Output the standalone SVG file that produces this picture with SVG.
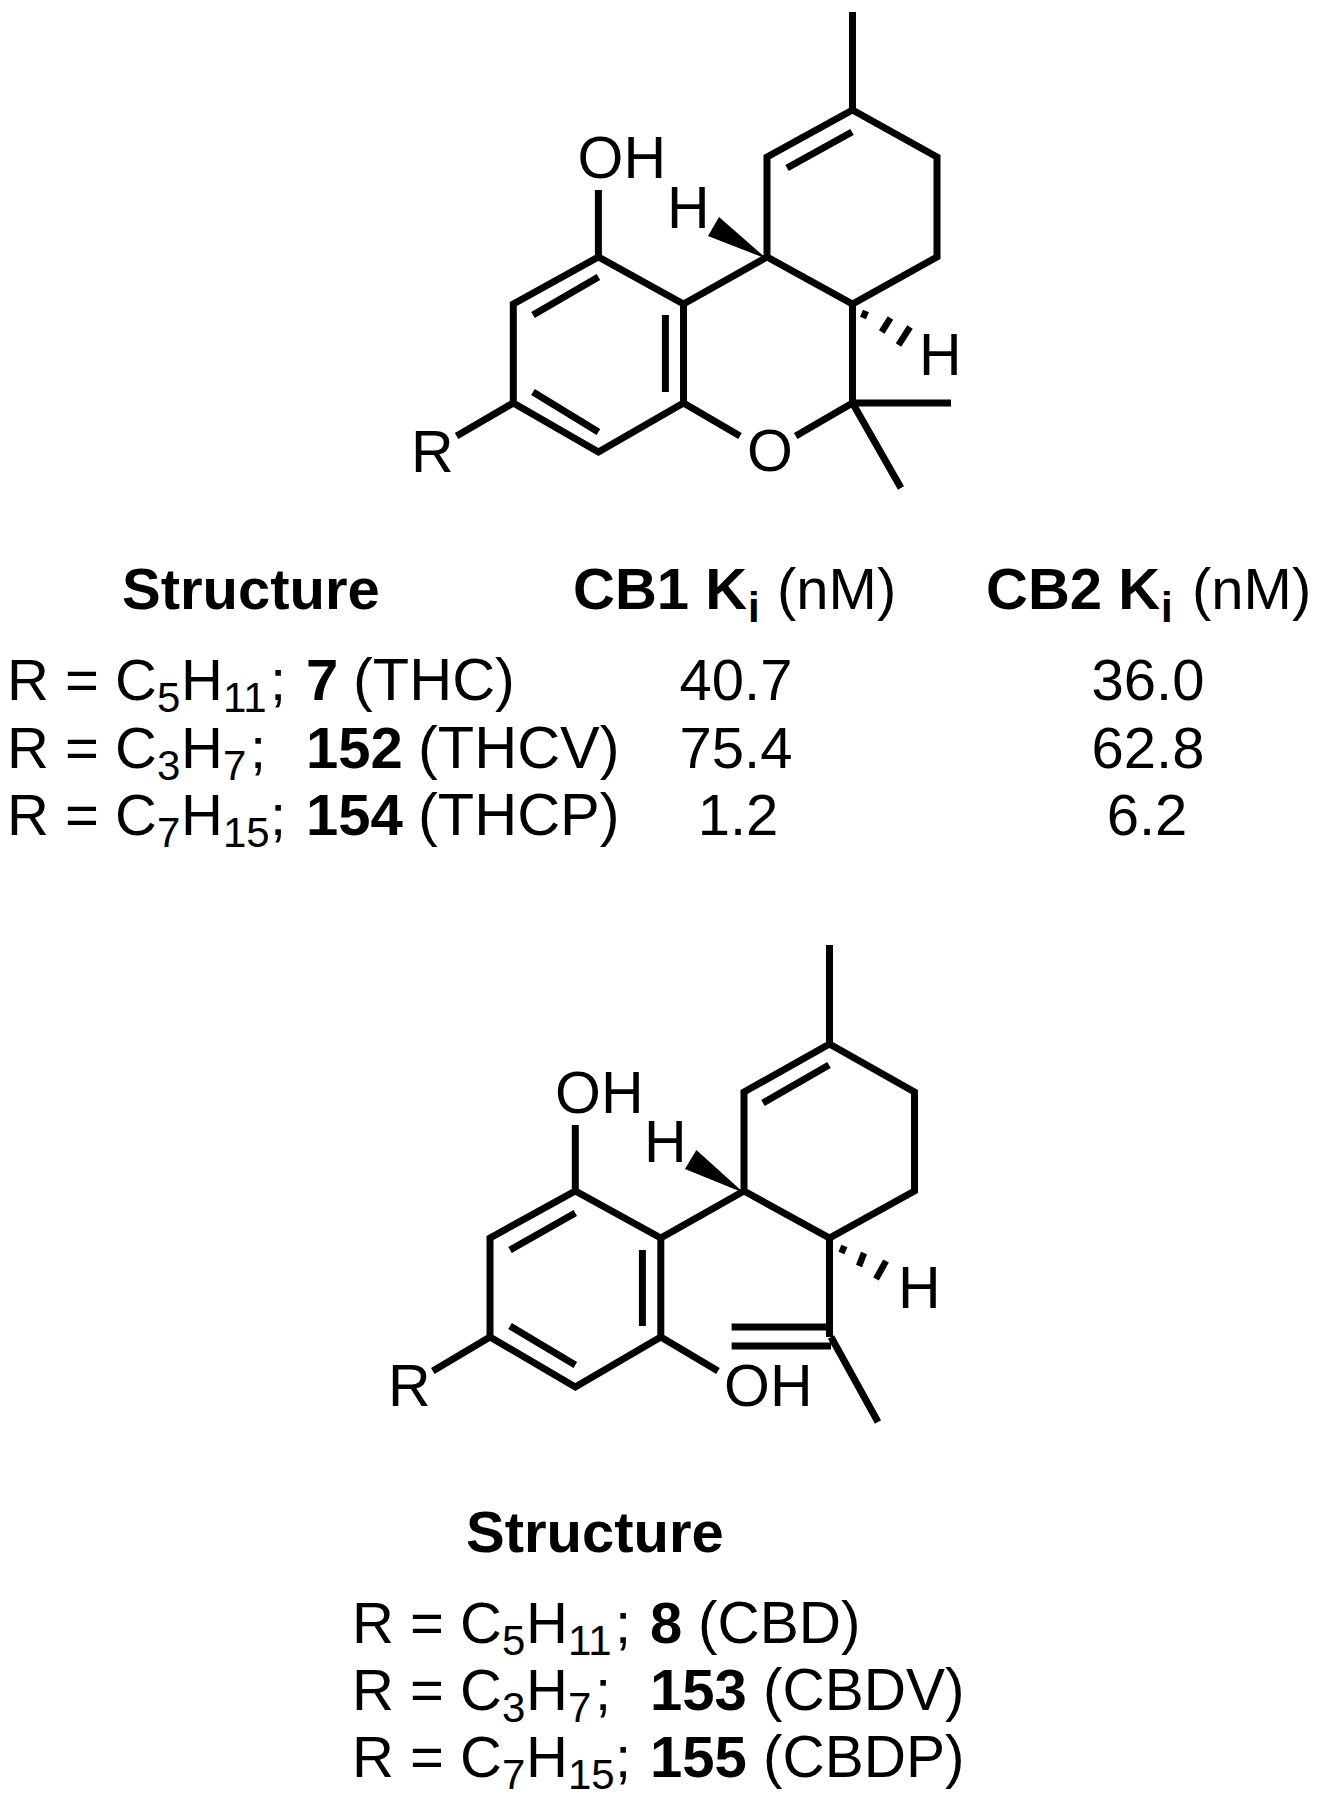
<svg xmlns="http://www.w3.org/2000/svg" width="1319" height="1800" viewBox="0 0 1319 1800">
<style>
text{font-family:"Liberation Sans",Arial,sans-serif;font-size:58px;fill:#000}
.b{font-weight:700}
.s{font-size:42px}
.a{font-size:59px}
.w{font-size:59.5px}
.v{font-size:58.5px}
.m{text-anchor:middle}
.bond{fill:none;stroke:#000;stroke-width:7;stroke-linejoin:miter;stroke-linecap:butt}
.hash{fill:none;stroke:#000;stroke-width:6.5}
</style>
<rect width="1319" height="1800" fill="#fff"/>
<g id="molecule-thc">
<path class="bond" d="M852.5 12V110L937 157V257L852.5 304L767 257V157L852.5 110M852 132L787 168M767 257L683.5 304V403L598.4 452L513.3 403V304L598.4 257L683.5 304M598.4 257V190M598.4 277L533 315M665.4 315V392M533 392L598.4 432M513.3 403L456.6 436M683.5 403L740 436M795.7 436L852.5 403V304M852.5 403H951M852.5 403L901 488"/>
<polygon points="767,259 719,217 708,236"/>
<path class="hash" d="M866 311L863 318M890.5 318L881.7 332M910 327L898.5 345"/>
<text class="a" x="577.5" y="178">OH</text>
<text class="a" x="667" y="228">H</text>
<text class="a" x="919" y="375">H</text>
<text class="a" x="411" y="472">R</text>
<text class="a m" x="770" y="471">O</text>
</g>
<g id="table-thc">
<text class="b" x="122" y="609">Structure</text>
<text class="b" x="573" y="609">CB1 K</text><text class="s b" x="748" y="622">i</text><text x="777" y="609">(nM)</text>
<text class="b" x="986" y="609">CB2 K</text><text class="s b" x="1161" y="622">i</text><text x="1192" y="609">(nM)</text>
<text x="7" y="700">R = C</text><text class="s" x="157" y="712">5</text><text x="181" y="700">H</text><text class="s" x="223" y="712">11</text><text x="270" y="700">;</text><text class="b" x="306" y="700">7</text><text class="w" x="353" y="700">(THC)</text>
<text x="7" y="768">R = C</text><text class="s" x="157" y="780">3</text><text x="181" y="768">H</text><text class="s" x="223" y="780">7</text><text x="250" y="768">;</text><text class="b" x="306" y="768">152</text><text class="w" x="418" y="768">(THCV)</text>
<text x="7" y="835">R = C</text><text class="s" x="157" y="847">7</text><text x="181" y="835">H</text><text class="s" x="223" y="847">15</text><text x="270" y="835">;</text><text class="b" x="306" y="835">154</text><text class="w" x="418" y="835">(THCP)</text>
<text class="m" x="736" y="700">40.7</text><text class="m" x="736" y="768">75.4</text><text class="m" x="738" y="835">1.2</text>
<text class="m" x="1148" y="700">36.0</text><text class="m" x="1148" y="768">62.8</text><text class="m" x="1147" y="835">6.2</text>
</g>
<g id="molecule-cbd">
<path class="bond" d="M829.5 945V1044L914.5 1092V1191L829.5 1238L744 1191V1092L829.5 1044M829 1065L763 1103M744 1191L660.8 1238V1337L575.3 1387L490 1337V1238L575.3 1191L660.8 1238M575.3 1191V1125M575.3 1213L510 1250M642.4 1250V1326M510 1326L575.3 1365M490 1337L432.8 1371M660.8 1337L718 1371M829.5 1238V1337M731.6 1327H828M731.6 1346H831M831 1337L878 1422"/>
<polygon points="744,1193 696.4,1150 685,1169"/>
<path class="hash" d="M844.4 1246L841.4 1253M864 1253L859 1266M886 1261L876 1279"/>
<text class="a" x="555" y="1113">OH</text>
<text class="a" x="644" y="1162">H</text>
<text class="a" x="898" y="1308">H</text>
<text class="a" x="388" y="1406">R</text>
<text class="a" x="724" y="1406">OH</text>
</g>
<g id="table-cbd">
<text class="b" x="466" y="1552">Structure</text>
<text x="352" y="1643">R = C</text><text class="s" x="502" y="1655">5</text><text x="526" y="1643">H</text><text class="s" x="568" y="1655">11</text><text x="615" y="1643">;</text><text class="b" x="650" y="1643">8</text><text class="v" x="698" y="1643">(CBD)</text>
<text x="352" y="1710">R = C</text><text class="s" x="502" y="1722">3</text><text x="526" y="1710">H</text><text class="s" x="568" y="1722">7</text><text x="595" y="1710">;</text><text class="b" x="650" y="1710">153</text><text class="v" x="763" y="1710">(CBDV)</text>
<text x="352" y="1777">R = C</text><text class="s" x="502" y="1789">7</text><text x="526" y="1777">H</text><text class="s" x="568" y="1789">15</text><text x="615" y="1777">;</text><text class="b" x="650" y="1777">155</text><text class="v" x="763" y="1777">(CBDP)</text>
</g>
</svg>
